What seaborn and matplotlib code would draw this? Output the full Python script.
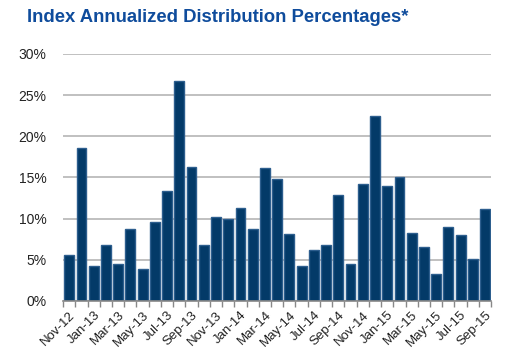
import pandas as pd
import matplotlib.pyplot as plt
import seaborn as sns
from matplotlib.ticker import FuncFormatter, FixedLocator

months = ['Nov-12', 'Dec-12',
          'Jan-13', 'Feb-13', 'Mar-13', 'Apr-13', 'May-13', 'Jun-13',
          'Jul-13', 'Aug-13', 'Sep-13', 'Oct-13', 'Nov-13', 'Dec-13',
          'Jan-14', 'Feb-14', 'Mar-14', 'Apr-14', 'May-14', 'Jun-14',
          'Jul-14', 'Aug-14', 'Sep-14', 'Oct-14', 'Nov-14', 'Dec-14',
          'Jan-15', 'Feb-15', 'Mar-15', 'Apr-15', 'May-15', 'Jun-15',
          'Jul-15', 'Aug-15', 'Sep-15']
dist_pct = [5.6, 18.6,
            4.2, 6.8, 4.5, 8.7, 3.9, 9.6,
            13.3, 26.7, 16.3, 6.8, 10.2, 9.9,
            11.3, 8.7, 16.1, 14.8, 8.1, 4.2,
            6.2, 6.8, 12.9, 4.5, 14.2, 22.4,
            14.0, 15.1, 8.3, 6.5, 3.3, 9.0,
            8.0, 5.1, 11.2]

df = pd.DataFrame({'Month': months, 'Pct': dist_pct})

sns.set_style('white')
plt.rcParams['font.family'] = ['Liberation Sans', 'DejaVu Sans']

fig = plt.figure(figsize=(5.09, 3.5), dpi=100)
ax = fig.add_axes([0.124, 0.14, 0.841, 0.706])

sns.barplot(data=df, x='Month', y='Pct', order=months, color='#033a68',
            saturation=1, width=0.8, edgecolor='#2d5e8e', linewidth=1,
            ax=ax, zorder=3)

ax.set_ylim(0, 30)
ax.set_xlim(-0.5, len(months) - 0.5)
ax.set_yticks(range(0, 31, 5))
ax.yaxis.set_major_formatter(FuncFormatter(lambda v, p: f'{v:.0f}%'))
ax.grid(axis='y', color='#b5b5b5', linewidth=1.2, zorder=0)
ax.set_xlabel('')
ax.set_ylabel('')

ax.set_xticks(range(0, len(months), 2))
ax.set_xticklabels(months[::2], rotation=45, ha='right',
                   rotation_mode='anchor', fontsize=9.5, color='#222222')
ax.xaxis.set_minor_locator(FixedLocator([i - 0.5 for i in range(len(months) + 1)]))
ax.tick_params(axis='x', which='major', length=0, pad=6)
ax.tick_params(axis='x', which='minor', length=4, width=1, color='#888888',
               direction='out', bottom=True)
ax.tick_params(axis='y', length=0, labelsize=10, labelcolor='#222222', pad=12)

for s in ['top', 'right', 'left']:
    ax.spines[s].set_visible(False)
ax.spines['bottom'].set_color('#888888')
ax.spines['bottom'].set_linewidth(1.2)
ax.spines['bottom'].set_zorder(4)

fig.text(0.053, 0.95, 'Index Annualized Distribution Percentages*',
         fontsize=13.3, fontweight='bold', color='#0f4c9c', va='center', ha='left')

fig.savefig('out.png', dpi=100)
